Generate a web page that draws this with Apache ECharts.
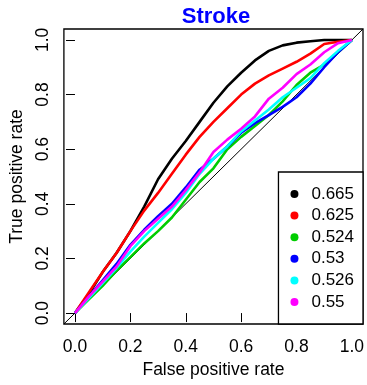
<!DOCTYPE html>
<html><head><meta charset="utf-8">
<script src="https://cdn.jsdelivr.net/npm/echarts@6/dist/echarts.min.js"></script>
<style>html,body{margin:0;padding:0;background:#fff}#c{width:367px;height:385px}</style>
</head><body><div id="c"></div>
<script>
const titleText = "Stroke";
const xName = "False positive rate";
const yName = "True positive rate";
const tickValues = [0, 0.2, 0.4, 0.6, 0.8, 1.0];
const seriesNames = ["0.665", "0.625", "0.524", "0.53", "0.526", "0.55"];
const seriesColors = ["#000000", "#ff0000", "#00cd00", "#0000ff", "#00ffff", "#ff00ff"];
const fpr = [0, 0.05, 0.1, 0.15, 0.2, 0.25, 0.3, 0.35, 0.4, 0.45, 0.5, 0.55, 0.6, 0.65, 0.7, 0.75, 0.8, 0.85, 0.9, 0.95, 1.0];
const tprBlack   = [0, 0.07, 0.15, 0.22, 0.30, 0.39, 0.49, 0.565, 0.63, 0.70, 0.77, 0.83, 0.88, 0.925, 0.96, 0.98, 0.99, 0.995, 1.0, 1.0, 1.0];
const tprRed     = [0, 0.075, 0.15, 0.22, 0.30, 0.375, 0.44, 0.51, 0.58, 0.645, 0.70, 0.75, 0.80, 0.84, 0.87, 0.895, 0.92, 0.95, 0.985, 0.993, 1.0];
const tprGreen   = [0, 0.05, 0.10, 0.155, 0.205, 0.255, 0.30, 0.35, 0.415, 0.48, 0.53, 0.60, 0.645, 0.685, 0.725, 0.775, 0.835, 0.88, 0.91, 0.955, 1.0];
const tprBlue    = [0, 0.06, 0.12, 0.18, 0.25, 0.305, 0.355, 0.40, 0.46, 0.525, 0.565, 0.61, 0.66, 0.695, 0.725, 0.755, 0.79, 0.84, 0.90, 0.955, 1.0];
const tprCyan    = [0, 0.055, 0.11, 0.165, 0.225, 0.28, 0.33, 0.38, 0.44, 0.51, 0.565, 0.61, 0.665, 0.705, 0.745, 0.79, 0.825, 0.86, 0.915, 0.96, 1.0];
const tprMagenta = [0, 0.06, 0.115, 0.17, 0.245, 0.30, 0.345, 0.39, 0.45, 0.515, 0.59, 0.635, 0.675, 0.72, 0.785, 0.825, 0.875, 0.91, 0.955, 0.988, 1.0];
const diagonal = [[-0.04, -0.04], [1.04, 1.04]];

const tprs = [tprBlack, tprRed, tprGreen, tprBlue, tprCyan, tprMagenta];
const font = "Liberation Sans, Arial, Helvetica, sans-serif";

const series = [{
  type: 'line', data: diagonal, symbol: 'none', silent: true,
  lineStyle: { color: '#000', width: 1 }, z: 1
}];
seriesNames.forEach((n, i) => {
  series.push({
    name: n, type: 'line', symbol: 'none',
    data: fpr.map((x, j) => [x, tprs[i][j]]),
    itemStyle: { color: seriesColors[i] },
    lineStyle: { color: seriesColors[i], width: 2.6 },
    z: 2 + i
  });
});

const axisCommon = {
  type: 'value', min: -0.04, max: 1.04,
  splitLine: { show: false },
  axisLine: { show: false },
  axisTick: { show: true, length: 9, inside: false, customValues: tickValues, lineStyle: { color: '#000', width: 1 } },
  nameLocation: 'middle',
  nameTextStyle: { fontFamily: font, fontSize: 17.5, color: '#000' }
};

const chart = echarts.init(document.getElementById('c'), null, { renderer: 'canvas' });
chart.setOption({
  animation: false,
  backgroundColor: '#fff',
  title: {
    text: titleText, left: 211, top: 1, textAlign: 'center',
    textStyle: { fontFamily: font, fontSize: 22, fontWeight: 'bold', color: '#0000ff' }
  },
  grid: { left: 58, top: 29, width: 305, height: 295, show: true, borderColor: '#000', borderWidth: 1.3, backgroundColor: 'transparent' },
  xAxis: Object.assign({}, axisCommon, {
    name: xName, nameGap: 35,
    axisLabel: { customValues: tickValues, margin: 14, fontFamily: font, fontSize: 17.5, color: '#000', formatter: v => v.toFixed(1) }
  }),
  yAxis: Object.assign({}, axisCommon, {
    name: yName, nameGap: 34,
    axisLabel: { customValues: tickValues, rotate: 90, margin: 12, fontFamily: font, fontSize: 17.5, color: '#000', formatter: v => v.toFixed(1) }
  }),
  legend: {
    data: seriesNames, orient: 'vertical', right: 4, bottom: 61,
    padding: [13.5, 9, 13.5, 12], itemGap: 4.6,
    itemWidth: 8, itemHeight: 8, icon: 'circle',
    backgroundColor: '#fff', borderColor: '#000', borderWidth: 1.3,
    textStyle: { fontFamily: font, fontSize: 17, color: '#000', lineHeight: 17, padding: [0, 0, 0, 8] }
  },
  series: series
});
</script></body></html>
